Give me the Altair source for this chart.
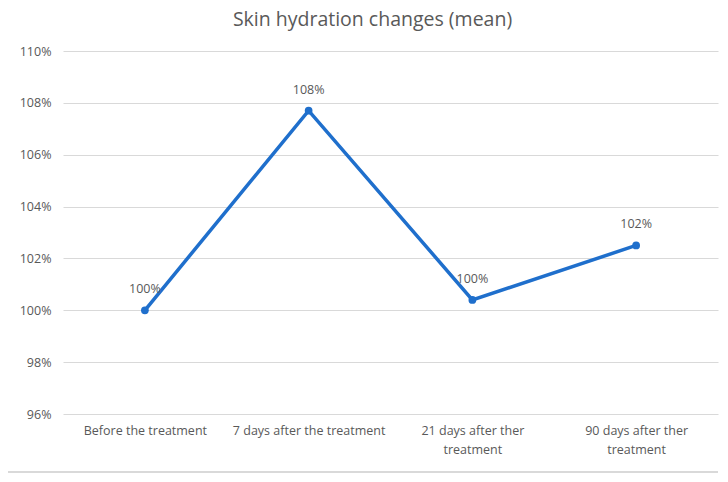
import altair as alt
import pandas as pd

# Mean skin hydration relative to baseline
stages = [
    "Before the treatment",
    "7 days after the treatment",
    "21 days after ther\ntreatment",
    "90 days after ther\ntreatment",
]
hydration = [1.000, 1.077, 1.004, 1.025]
y_ticks = [0.96, 0.98, 1.00, 1.02, 1.04, 1.06, 1.08, 1.10]

df = pd.DataFrame({"stage": stages, "hydration": hydration})

FONT = "Open Sans"
GREY = "#595959"
BLUE = "#1f6fcc"

x_enc = alt.X(
    "stage:N",
    sort=stages,
    scale=alt.Scale(type="point", padding=0.5),
    axis=alt.Axis(
        title=None,
        labelAngle=0,
        labelExpr="split(datum.label, '\\n')",
        labelFont=FONT,
        labelFontSize=12.5,
        labelColor=GREY,
        labelPadding=10,
        labelLineHeight=19,
        ticks=False,
        domain=False,
        grid=False,
    ),
)
y_enc = alt.Y(
    "hydration:Q",
    scale=alt.Scale(domain=[0.96, 1.10], nice=False, zero=False),
    axis=alt.Axis(
        title=None,
        values=y_ticks,
        format=".0%",
        labelFont=FONT,
        labelFontSize=12.5,
        labelColor=GREY,
        labelPadding=12,
        ticks=False,
        domain=False,
        grid=True,
        gridColor="#d9d9d9",
        gridWidth=1,
    ),
)

base = alt.Chart(df).encode(x=x_enc, y=y_enc)

line = base.mark_line(color=BLUE, strokeWidth=3.5)
points = base.mark_point(color=BLUE, filled=True, opacity=1, size=60)
labels = base.mark_text(
    dy=-21, font=FONT, fontSize=12.5, color=GREY
).encode(text=alt.Text("hydration:Q", format=".0%"))

# Frame line below the category labels
frame = alt.Chart(df).mark_rule(color="#d9d9d9", strokeWidth=1.5).encode(
    x=alt.value(-55), x2=alt.value(655), y=alt.value(421)
)

chart = (
    alt.layer(line, points, labels, frame)
    .properties(
        width=655,
        height=363,
        title=alt.TitleParams(
            "Skin hydration changes (mean)",
            font=FONT,
            fontSize=19.5,
            fontWeight="normal",
            color=GREY,
            anchor="middle",
            dx=-18,
            offset=15,
        ),
        autosize=alt.AutoSizeParams(type="none"),
        padding={"left": 63, "top": 51, "right": 10, "bottom": 68},
        background="white",
    )
    .configure_view(stroke=None, strokeWidth=0)
)

chart.save("out.html", embed_options={"renderer": "svg", "actions": False})
